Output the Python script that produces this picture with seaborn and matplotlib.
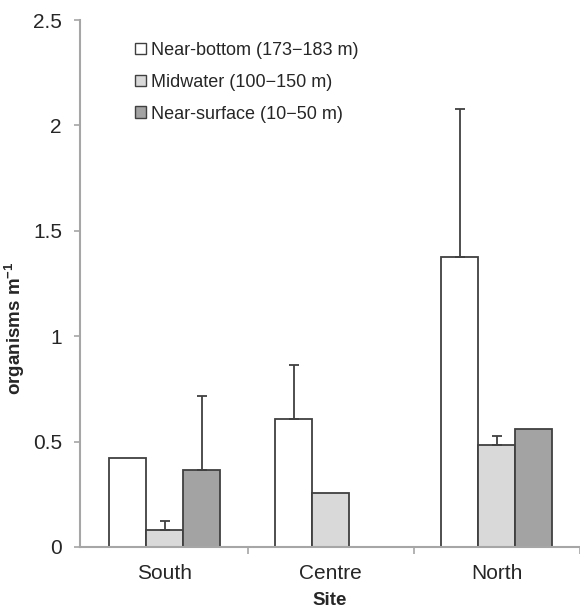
import numpy as np
import pandas as pd
import matplotlib
matplotlib.use("Agg")
import matplotlib.pyplot as plt
import seaborn as sns

sites = ["South", "Centre", "North"]
depths = ["Near-bottom (173\u2212183 m)", "Midwater (100\u2212150 m)", "Near-surface (10\u221250 m)"]
near_bottom = [0.421, 0.606, 1.374]
midwater = [0.080, 0.258, 0.484]
near_surface = [0.364, np.nan, 0.558]
err_near_bottom = [np.nan, 0.257, 0.702]
err_midwater = [0.042, np.nan, 0.044]
err_near_surface = [0.354, np.nan, np.nan]
yticks = [0, 0.5, 1, 1.5, 2, 2.5]
ytick_labels = ["0", "0.5", "1", "1.5", "2", "2.5"]

values = [near_bottom, midwater, near_surface]
errors = [err_near_bottom, err_midwater, err_near_surface]
rows = []
for d, vals in zip(depths, values):
    for s, v in zip(sites, vals):
        rows.append({"Site": s, "Depth": d, "value": v})
df = pd.DataFrame(rows)

sns.set_style("white")
plt.rcParams["font.family"] = ["Liberation Sans", "DejaVu Sans"]
plt.rcParams["mathtext.fontset"] = "custom"
plt.rcParams["mathtext.rm"] = "Liberation Sans"
plt.rcParams["mathtext.bf"] = "Liberation Sans:bold"

fig = plt.figure(figsize=(5.8, 6.12), dpi=100)
ax = fig.add_axes([80 / 580, 65 / 612, 1 - 80 / 580, (547 - 20) / 612])

palette = ["#ffffff", "#d9d9d9", "#a3a3a3"]
edge = "#404040"
sns.barplot(data=df, x="Site", y="value", hue="Depth", order=sites, hue_order=depths,
            palette=palette, width=0.668, edgecolor=edge, linewidth=1.3,
            errorbar=None, ax=ax, legend=True)

for cont, errs in zip(ax.containers, errors):
    for bar, e in zip(cont.patches, errs):
        if np.isnan(e) or np.isnan(bar.get_height()):
            continue
        xc = bar.get_x() + bar.get_width() / 2
        ax.errorbar([xc], [bar.get_height()], yerr=[[0], [e]], fmt="none",
                    ecolor=edge, elinewidth=1.3, capsize=3.5, capthick=1.3, zorder=1)

ax.set_ylim(0, 2.5)
ax.set_xlim(-0.51, 2.48)
ax.set_yticks(yticks)
ax.set_yticklabels(ytick_labels)
ax.set_xticks([0.5, 1.5, 2.5], minor=True)

spine_c = "#a6a6a6"
for side in ["top", "right"]:
    ax.spines[side].set_visible(False)
for side in ["left", "bottom"]:
    ax.spines[side].set_color(spine_c)
    ax.spines[side].set_linewidth(1.5)

ax.tick_params(axis="y", which="major", direction="out", length=4, width=1.2,
               color=spine_c, labelsize=15, pad=9, left=True)
ax.tick_params(axis="x", which="major", length=0, labelsize=15, pad=12)
ax.tick_params(axis="x", which="minor", direction="out", length=5, width=1.2,
               color=spine_c, bottom=True)

ax.set_ylabel("organisms m$^{\\mathbf{-1}}$", fontsize=13.5, fontweight="bold")
ax.yaxis.set_label_coords((27 - 80) / 500, (547 - 328) / 527)
ax.set_xlabel("Site", fontsize=13.5, fontweight="bold")
ax.xaxis.set_label_coords(0.5, (547 - 592) / 527)
ax.xaxis.label.set_va("top")

handles, labels = ax.get_legend_handles_labels()
leg = ax.legend(handles, labels, loc="upper left", bbox_to_anchor=(0.095, 0.972),
                frameon=False, fontsize=13, handlelength=0.6, handleheight=0.6,
                handletextpad=0.3, labelspacing=0.82, borderaxespad=0)
for h in leg.legend_handles:
    h.set_edgecolor(edge)
    h.set_linewidth(1.0)

fig.savefig("out.png", dpi=100)
